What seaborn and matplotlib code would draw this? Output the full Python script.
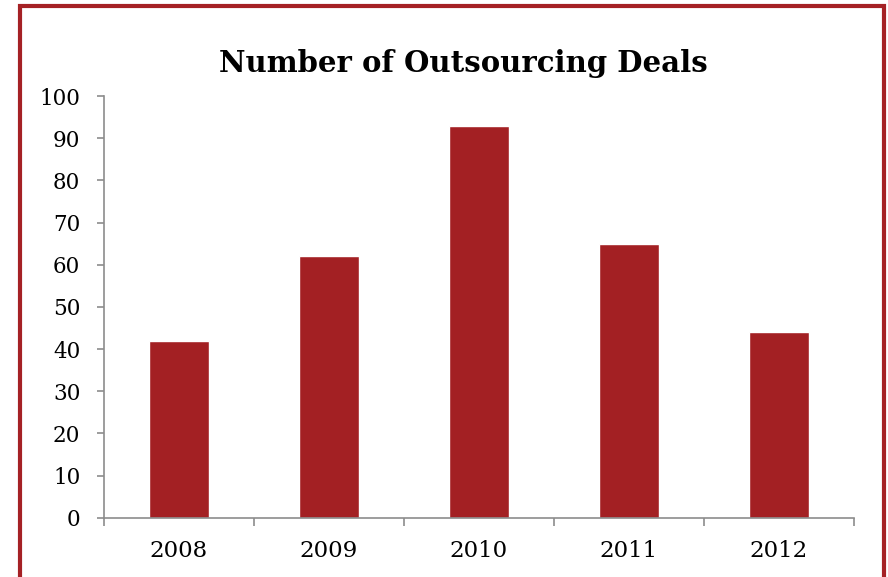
import matplotlib
matplotlib.use("Agg")
import matplotlib.pyplot as plt
from matplotlib.patches import Rectangle
import seaborn as sns
import pandas as pd

years = ["2008", "2009", "2010", "2011", "2012"]
deals = [42, 62, 93, 65, 44]
y_ticks = [0, 10, 20, 30, 40, 50, 60, 70, 80, 90, 100]

bar_color = "#A32023"
frame_color = "#A52125"
axis_color = "#8C8C8C"

sns.set_theme(style="white")
plt.rcParams["font.family"] = ["DejaVu Serif"]

fig = plt.figure(figsize=(8.88, 5.77), dpi=100)
ax = fig.add_axes([0.1171, 0.1028, 0.8446, 0.7308])

df = pd.DataFrame({"year": years, "deals": deals})
sns.barplot(data=df, x="year", y="deals", color=bar_color, width=0.4,
            saturation=1, ax=ax)

ax.set_xlim(-0.5, len(years) - 0.5)
ax.set_ylim(0, 100)
ax.set_yticks(y_ticks)
ax.set_xlabel("")
ax.set_ylabel("")

# category boundary ticks on the x axis
ax.set_xticks(range(len(years)))
ax.set_xticklabels(years)
ax.set_xticks([i - 0.5 for i in range(len(years) + 1)], minor=True)
ax.tick_params(axis="x", which="major", bottom=True, length=0, pad=16,
               labelsize=16.5, labelcolor="black")
ax.tick_params(axis="x", which="minor", bottom=True, length=6, width=1.2,
               color=axis_color, direction="out")
ax.tick_params(axis="y", which="major", left=True, length=5, width=1.2,
               color=axis_color, direction="out", pad=12, labelsize=15.5,
               labelcolor="black")

for side in ("top", "right"):
    ax.spines[side].set_visible(False)
for side in ("left", "bottom"):
    ax.spines[side].set_color(axis_color)
    ax.spines[side].set_linewidth(1.2)

fig.text(0.5215, 1 - 72 / 577, "Number of Outsourcing Deals", ha="center",
         va="baseline", fontsize=21, fontweight="bold", color="black")

# red frame around the chart, open past the bottom edge
frame = Rectangle((19.5 / 888, -0.2), (883.5 - 19.5) / 888, 1.189,
                  transform=fig.transFigure, fill=False,
                  edgecolor=frame_color, linewidth=3, clip_on=False)
fig.patches.append(frame)

fig.savefig("out.png", dpi=100)
